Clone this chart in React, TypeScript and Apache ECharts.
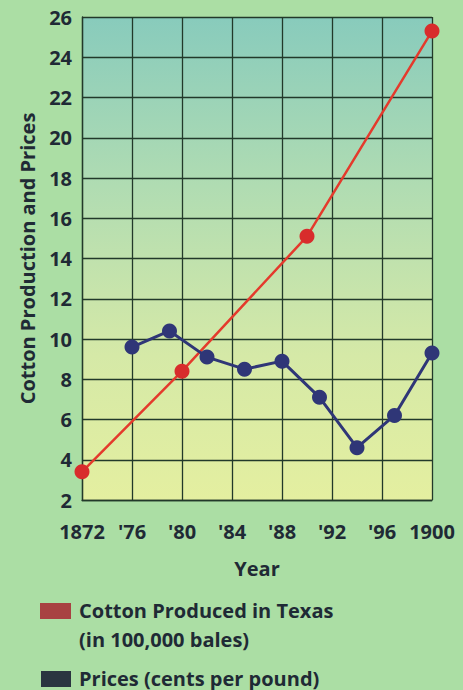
import React, { useEffect, useRef } from "react";
import * as echarts from "echarts";

const cottonYears = [1872, 1880, 1890, 1900];
const cottonValues = [3.4, 8.4, 15.1, 25.3];
const priceYears = [1876, 1879, 1882, 1885, 1888, 1891, 1894, 1897, 1900];
const priceValues = [9.6, 10.4, 9.1, 8.5, 8.9, 7.1, 4.6, 6.2, 9.3];
const xTickLabels = ["1872", "'76", "'80", "'84", "'88", "'92", "'96", "1900"];
const yAxisTitle = "Cotton Production and Prices";
const xAxisTitle = "Year";
const legendCotton = ["Cotton Produced in Texas", "(in 100,000 bales)"];
const legendPrices = "Prices (cents per pound)";

const FONT = "'Open Sans', 'Noto Sans', sans-serif";
const TEXT = "#1f2a35";
const GRIDLINE = "#22392a";

export default function App() {
  const ref = useRef<HTMLDivElement>(null);
  useEffect(() => {
    if (!ref.current) return;
    const chart = echarts.init(ref.current, undefined, { renderer: "svg" });
    const option: any = {
      animation: false,
      backgroundColor: "#abdea4",
      grid: {
        left: 82,
        right: 31,
        top: 17,
        bottom: 190,
        show: true,
        borderWidth: 0,
        backgroundColor: {
          type: "linear",
          x: 0,
          y: 0,
          x2: 0,
          y2: 1,
          colorStops: [
            { offset: 0, color: "#88cbbc" },
            { offset: 0.35, color: "#b0dcb2" },
            { offset: 0.7, color: "#d5e9a7" },
            { offset: 1, color: "#e4efa0" },
          ],
        },
      },
      xAxis: {
        type: "value",
        min: 1872,
        max: 1900,
        interval: 4,
        name: xAxisTitle,
        nameLocation: "middle",
        nameGap: 58,
        nameTextStyle: { fontFamily: FONT, fontWeight: "bold", fontSize: 20, color: TEXT },
        axisLine: { show: true, lineStyle: { color: GRIDLINE, width: 1.3 } },
        axisTick: { show: false },
        axisLabel: {
          fontFamily: FONT,
          fontWeight: "bold",
          fontSize: 20,
          color: TEXT,
          margin: 21,
          formatter: (v: number) => xTickLabels[Math.round((v - 1872) / 4)] ?? "",
        },
        splitLine: { show: true, lineStyle: { color: GRIDLINE, width: 1.3 } },
      },
      yAxis: {
        type: "value",
        min: 2,
        max: 26,
        interval: 2,
        name: yAxisTitle,
        nameLocation: "middle",
        nameGap: 45,
        nameTextStyle: { fontFamily: FONT, fontWeight: "bold", fontSize: 20, color: TEXT },
        axisLine: { show: true, lineStyle: { color: GRIDLINE, width: 1.3 } },
        axisTick: { show: false },
        axisLabel: {
          fontFamily: FONT,
          fontWeight: "bold",
          fontSize: 20,
          color: TEXT,
          margin: 10,
        },
        splitLine: { show: true, lineStyle: { color: GRIDLINE, width: 1.3 } },
      },
      series: [
        {
          type: "line",
          name: "Cotton",
          data: cottonYears.map((y, i) => [y, cottonValues[i]]),
          symbol: "circle",
          symbolSize: 15,
          lineStyle: { color: "#e43a2c", width: 2.5 },
          itemStyle: { color: "#d82c2c" },
          z: 3,
        },
        {
          type: "line",
          name: "Prices",
          data: priceYears.map((y, i) => [y, priceValues[i]]),
          symbol: "circle",
          symbolSize: 15,
          lineStyle: { color: "#2f3677", width: 3 },
          itemStyle: { color: "#2f3677" },
          z: 4,
        },
      ],
      graphic: [
        { type: "rect", left: 40, top: 603, shape: { width: 31, height: 16 }, style: { fill: "#a84242" } },
        {
          type: "text",
          left: 79,
          top: 600,
          style: { text: legendCotton[0], font: `bold 20px ${FONT}`, fill: TEXT },
        },
        {
          type: "text",
          left: 79,
          top: 629,
          style: { text: legendCotton[1], font: `bold 20px ${FONT}`, fill: TEXT },
        },
        { type: "rect", left: 41, top: 671, shape: { width: 30, height: 16 }, style: { fill: "#2a3540" } },
        {
          type: "text",
          left: 79,
          top: 668,
          style: { text: legendPrices, font: `bold 20px ${FONT}`, fill: TEXT },
        },
      ],
    };
    chart.setOption(option);
    return () => chart.dispose();
  }, []);
  return (
    <div
      ref={ref}
      style={{ position: "fixed", left: 0, top: 0, width: 463, height: 690 }}
    />
  );
}
